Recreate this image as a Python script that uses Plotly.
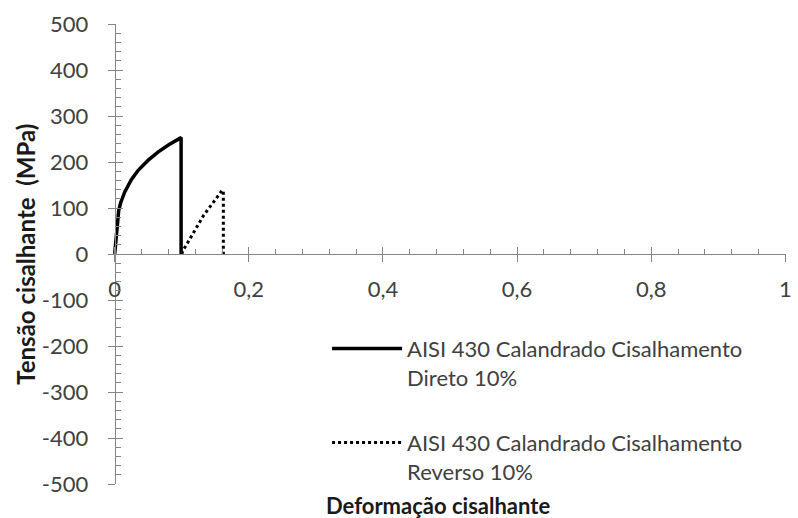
import plotly.graph_objects as go

# Data
direct_x = [0, 0.003, 0.006, 0.009, 0.015, 0.025, 0.035, 0.05, 0.065, 0.08, 0.099, 0.099]
direct_y = [0, 60, 95, 112, 135, 162, 182, 204, 222, 237, 253, 0]
reverse_x = [0.100, 0.102, 0.111, 0.121, 0.133, 0.146, 0.156, 0.160, 0.162, 0.162]
reverse_y = [0, 8, 30, 56, 85, 110, 130, 138, 138, 0]

name_direct = "AISI 430 Calandrado Cisalhamento<br>Direto 10%"
name_reverse = "AISI 430 Calandrado Cisalhamento<br>Reverso 10%"

x_ticks = [0, 0.2, 0.4, 0.6, 0.8, 1]
x_labels = ["0", "0,2", "0,4", "0,6", "0,8", "1"]
y_ticks = [-500, -400, -300, -200, -100, 0, 100, 200, 300, 400, 500]
y_labels = ["-500", "-400", "-300", "-200", "-100", "0", "100", "200", "300", "400", "500"]

FONT = "Lato"
AX = "#868686"
TXT = "#404040"

fig = go.Figure()
fig.add_trace(go.Scatter(x=direct_x, y=direct_y, mode="lines", name=name_direct,
                         line=dict(color="black", width=3.5), legendgroup="a"))
fig.add_trace(go.Scatter(x=reverse_x, y=reverse_y, mode="lines", name=name_reverse,
                         line=dict(color="black", width=3, dash="dot"), legendgroup="b"))
fig.add_trace(go.Scatter(x=[], y=[], xaxis="x2", yaxis="y2", showlegend=False))

xr = [-0.01, 1.001]
yr = [-500, 500]
ypos = (0 - xr[0]) / (xr[1] - xr[0])  # y axis crosses at x = 0

L, R = 108, 6
W = 798 - L - R

def px_to_paper(px):
    return (px - L) / W

common_x = dict(range=xr, tickvals=x_ticks, showgrid=False, zeroline=False,
                anchor="free", position=0.5, tickcolor=AX, linecolor=AX)
common_y = dict(range=yr, tickvals=y_ticks, showgrid=False, zeroline=False,
                anchor="free", position=ypos, tickcolor=AX, linecolor=AX)
fig.update_layout(
    width=798, height=518,
    margin=dict(l=L, r=R, t=24, b=34),
    paper_bgcolor="white", plot_bgcolor="white",
    font=dict(family=FONT, size=22, color=TXT),
    xaxis=dict(**common_x, ticktext=x_labels, showline=True, linewidth=1,
               ticks="outside", ticklen=7, tickwidth=1,
               tickfont=dict(family=FONT, size=22, color=TXT),
               ticklabelstandoff=9),
    xaxis2=dict(**common_x, overlaying="x", showline=False, showticklabels=False,
                ticks="inside", ticklen=7, tickwidth=1,
                minor=dict(ticks="inside", dtick=0.04, ticklen=5, tickcolor=AX, tickwidth=1)),
    yaxis=dict(**common_y, ticktext=y_labels, showline=True, linewidth=1,
               ticks="outside", ticklen=7,
               tickfont=dict(family=FONT, size=22, color=TXT),
               ticklabelstandoff=15),
    yaxis2=dict(**common_y, overlaying="y", showline=False, showticklabels=False,
                ticks="inside", ticklen=7, side="left",
                minor=dict(ticks="inside", dtick=20, ticklen=5, tickcolor=AX, tickwidth=1)),
    legend=dict(x=px_to_paper(329), y=0.34, xanchor="left", yanchor="top", valign="top",
                tracegroupgap=34, itemwidth=70, bgcolor="rgba(0,0,0,0)",
                font=dict(family=FONT, size=22, color=TXT)),
    showlegend=True,
)

fig.add_annotation(text="<b>Tensão cisalhante  (MPa)</b>", xref="paper", yref="paper",
                   x=px_to_paper(24), y=0.5, xanchor="center", yanchor="middle",
                   textangle=-90, showarrow=False,
                   font=dict(family=FONT, size=24, color="#1a1a1a"))
fig.add_annotation(text="<b>Deformação cisalhante</b>", xref="paper", yref="paper",
                   x=px_to_paper(441), y=-0.046, showarrow=False, xanchor="center", yanchor="middle",
                   font=dict(family=FONT, size=22, color="#1a1a1a"))

fig.write_html("out.html")
